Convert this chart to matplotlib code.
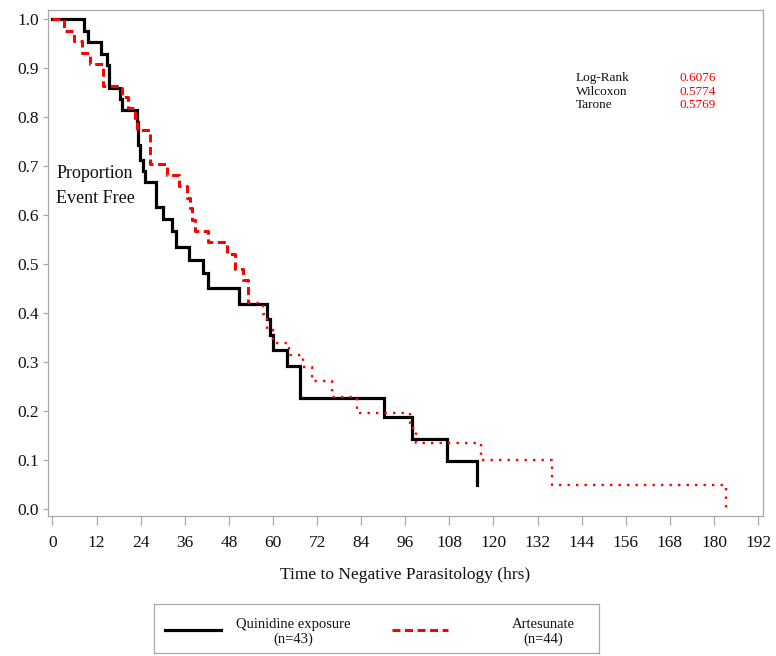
import matplotlib
matplotlib.use("Agg")
import matplotlib.pyplot as plt
import numpy as np

plt.rcParams['font.family'] = ['Liberation Serif', 'DejaVu Serif']

# Quinidine exposure (n=43): event times (hrs) and survival after each step
QUIN_T = [0, 8.6, 9.6, 13.1, 14.8, 15.5, 18.4, 18.8, 22.9, 23.3, 23.8, 24.7,
          25.3, 28.2, 30.0, 32.4, 33.6, 37.2, 41.0, 42.4, 50.8, 58.3, 59.2,
          60.1, 63.7, 67.3, 90.1, 97.9, 107.4, 115.6]
QUIN_S = [1.0, 0.977, 0.953, 0.930, 0.907, 0.860, 0.837, 0.814, 0.791, 0.744,
          0.712, 0.690, 0.667, 0.616, 0.593, 0.567, 0.535, 0.508, 0.482, 0.451,
          0.418, 0.389, 0.356, 0.324, 0.291, 0.227, 0.187, 0.143, 0.097, 0.049]

# Artesunate (n=44)
ART_T = [0, 3.1, 5.9, 7.9, 10.2, 13.8, 18.8, 20.6, 22.4, 23.1, 26.5, 31.1,
         34.5, 36.5, 37.3, 38.0, 38.8, 42.4, 47.4, 49.7, 51.9, 53.3, 57.4,
         58.3, 60.1, 64.4, 68.1, 70.5, 76.0, 82.8, 97.3, 98.9, 116.5, 135.8,
         183.2]
ART_S = [1.0, 0.977, 0.955, 0.932, 0.909, 0.864, 0.841, 0.818, 0.795, 0.773,
         0.705, 0.682, 0.659, 0.636, 0.614, 0.591, 0.568, 0.545, 0.520, 0.491,
         0.467, 0.420, 0.399, 0.365, 0.340, 0.314, 0.289, 0.262, 0.229, 0.197,
         0.165, 0.134, 0.100, 0.050, 0.0]
ART_SPLIT = 21  # the curve renders dashed up to here, dotted afterwards

TESTS = ["Log-Rank", "Wilcoxon", "Tarone"]
PVALS = ["0.6076", "0.5774", "0.5769"]

XTICKS = np.arange(0, 193, 12)
YTICKS = np.round(np.arange(0, 1.01, 0.1), 1)

W, H = 776, 656
fig = plt.figure(figsize=(W / 100, H / 100), dpi=100)

# plot box in pixels
L, R, T, B = 48.3, 762.7, 10, 516
ax = fig.add_axes([L / W, 1 - B / H, (R - L) / W, (B - T) / H])

ax.step(QUIN_T, QUIN_S, where='post', color='black', lw=2.3,
        solid_joinstyle='miter')
ax.step(ART_T[:ART_SPLIT + 1], ART_S[:ART_SPLIT + 1], where='post',
        color='red', lw=2.2, dashes=(2.6, 1.5))
ax.step(ART_T[ART_SPLIT:], ART_S[ART_SPLIT:], where='post',
        color='red', lw=1.7, dashes=(1.0, 2.6))

ax.set_xlim(-1.14, 193.25)
ax.set_ylim(-0.0143, 1.019)
ax.set_xticks(XTICKS)
ax.set_yticks(YTICKS)
ax.set_yticklabels([f"{v:.1f}" for v in YTICKS])

gray = '#a8a8a8'
for s in ax.spines.values():
    s.set_color(gray)
    s.set_linewidth(0.9)
ax.tick_params(axis='x', length=6.5, width=0.9, color=gray, pad=7,
               labelsize=12.5, labelcolor='#111111')
ax.tick_params(axis='y', length=3.5, width=0.9, color=gray, pad=3,
               labelsize=12.5, labelcolor='#111111')

ax.set_xlabel('Time to Negative Parasitology (hrs)', fontsize=12.5,
              color='#111111', labelpad=12)

ax.text(1.0, 0.66, 'Proportion\nEvent Free', fontsize=13, color='#111111',
        va='center', ha='left', linespacing=1.6)

# test statistics
for i, (name, p) in enumerate(zip(TESTS, PVALS)):
    y = 78.3 + i * 13.4
    fig.text(576 / W, 1 - y / H, name, fontsize=9.5, color='#111111',
             va='center', ha='left')
    fig.text(680 / W, 1 - y / H, p, fontsize=9.5, color='red',
             va='center', ha='left')

# legend box
lx0, lx1, ly0, ly1 = 154, 599, 604, 653
lg = fig.add_axes([lx0 / W, 1 - ly1 / H, (lx1 - lx0) / W, (ly1 - ly0) / H])
lg.set_xlim(0, lx1 - lx0)
lg.set_ylim(ly1 - ly0, 0)
lg.set_xticks([])
lg.set_yticks([])
for s in lg.spines.values():
    s.set_color(gray)
    s.set_linewidth(0.9)
lg.plot([11, 67], [26, 26], color='black', lw=2.3)
lg.plot([238, 294], [26, 26], color='red', lw=2.2, dashes=(2.6, 1.5))
lg.text(139, 28, 'Quinidine exposure\n(n=43)', fontsize=10.5, color='#111111',
        ha='center', va='center', multialignment='center', linespacing=1.15)
lg.text(389, 28, 'Artesunate\n(n=44)', fontsize=10.5, color='#111111',
        ha='center', va='center', multialignment='center', linespacing=1.15)

fig.savefig('out.png', dpi=100)
